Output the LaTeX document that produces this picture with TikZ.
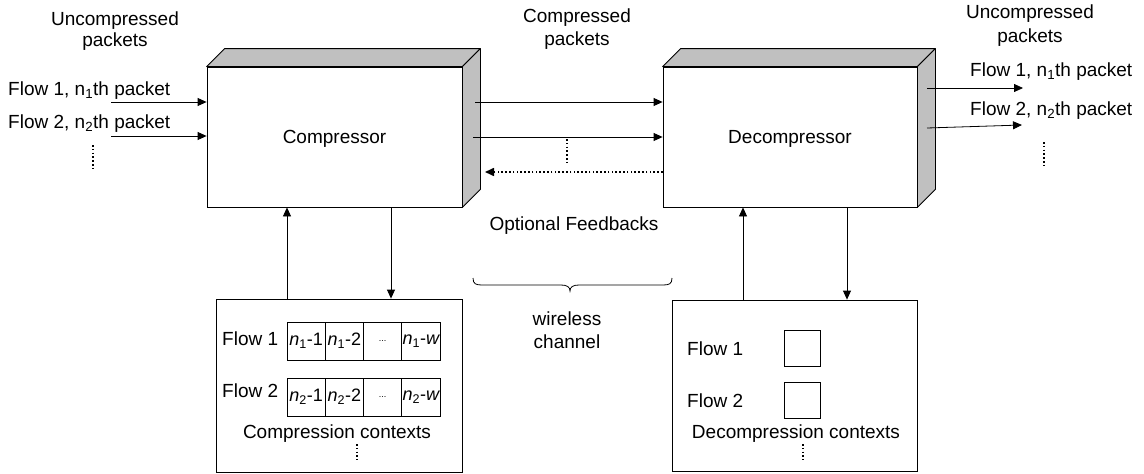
\documentclass[tikz,border=0pt]{standalone}
\usepackage{fontspec}
\setmainfont{Liberation Sans}
\usetikzlibrary{arrows.meta,calc}
\definecolor{sidegray}{RGB}{192,192,192}
\begin{document}
\begin{tikzpicture}[x=1pt,y=-1pt,
  every node/.style={font=\fontsize{19}{22}\selectfont, inner sep=0pt},
  arr/.style={draw, line width=0.8pt, -{Triangle[length=9pt,width=8pt]}},
  dotline/.style={line width=1.6pt, line cap=butt, dash pattern=on 1.6pt off 2.2pt},
  dotarr/.style={dotline, -{Triangle[length=9pt,width=8pt]}},
  box3d/.style={draw, fill=white, line width=0.8pt, minimum width=255pt, minimum height=140pt, text height=13.6pt, text depth=0pt},
  face/.style={draw, fill=sidegray, line width=0.8pt, line join=round},
  ctxbox/.style={draw, line width=0.8pt},
  cell/.style={draw, line width=0.7pt, minimum width=38.25pt, minimum height=38pt, font=\fontsize{18}{20}\selectfont},
  sq/.style={draw, line width=0.7pt, minimum size=36pt},
  lbl/.style={anchor=base, align=center},
  lblw/.style={anchor=base west}
]
\useasboundingbox (0,0) rectangle (1144,474);

% 3D boxes
\node[box3d] (comp) at (334.5,137) {Compressor};
\draw[face] (comp.north west) -- ++(18,-18) -- ($(comp.north east)+(18,-18)$) -- (comp.north east) -- cycle;
\draw[face] (comp.north east) -- ++(18,-18) -- ($(comp.south east)+(18,-18)$) -- (comp.south east) -- cycle;

\node[box3d, minimum width=254pt] (dec) at (790,137) {Decompressor};
\draw[face] (dec.north west) -- ++(18,-18) -- ($(dec.north east)+(18,-18)$) -- (dec.north east) -- cycle;
\draw[face] (dec.north east) -- ++(18,-18) -- ($(dec.south east)+(18,-18)$) -- (dec.south east) -- cycle;

% context boxes
\node[ctxbox, minimum width=246pt, minimum height=173pt] (ctx) at (339,385.5) {};
\node[ctxbox, minimum width=245pt, minimum height=171pt] (dctx) at (794.5,385.5) {};

% top labels (base = last line)
\node[lbl, font=\fontsize{19}{21}\selectfont] (tl) at (115,46) {Uncompressed\\packets};
\node[lbl, font=\fontsize{19}{23}\selectfont] (tm) at (577,45) {Compressed\\packets};
\node[lbl, font=\fontsize{19}{24}\selectfont] (tr) at (1030,42) {Uncompressed\\packets};

\node[lblw] (lf1) at (8,95) {Flow 1, n\textsubscript{1}th packet};
\node[lblw] (lf2) at (8,128) {Flow 2, n\textsubscript{2}th packet};
\node[lblw] (rf1) at (970,76) {Flow 1, n\textsubscript{1}th packet};
\node[lblw] (rf2) at (970,115) {Flow 2, n\textsubscript{2}th packet};

\node[lbl] (fb) at (574,230) {Optional Feedbacks};
\node[lbl, font=\fontsize{19}{23}\selectfont] (wc) at (567,348) {wireless\\channel};

% input arrows
\coordinate (l1) at (111,102);
\coordinate (l2) at (111,136);
\draw[arr] (l1) -- (l1 -| comp.west);
\draw[arr] (l2) -- (l2 -| comp.west);
\draw[dotline] (93,145) -- (93,170);

% channel arrows
\coordinate (m1) at (475,102);
\coordinate (m2) at (473,137);
\coordinate (mfb) at (485,172);
\draw[arr] (m1) -- (m1 -| dec.west);
\draw[arr] (m2) -- (m2 -| dec.west);
\draw[dotarr] (mfb -| dec.west) -- (mfb);
\draw[dotline] (567,139) -- (567,162);

% output arrows
\coordinate (r1s) at (927,88);
\coordinate (r1e) at (1023,88);
\coordinate (r2s) at (927,128);
\coordinate (r2e) at (1022,125);
\draw[arr] (r1s) -- (r1e);
\draw[arr] (r2s) -- (r2e);
\draw[dotline] (1044,142) -- (1044,165);

% vertical arrows
\coordinate (cu) at (287,250);
\coordinate (cd) at (391,250);
\coordinate (du) at (743,250);
\coordinate (dd) at (847,250);
\draw[arr] (cu |- ctx.north) -- (cu |- comp.south);
\draw[arr] (cd |- comp.south) -- (cd |- ctx.north);
\draw[arr] (du |- dctx.north) -- (du |- dec.south);
\draw[arr] (dd |- dec.south) -- (dd |- dctx.north);

% brace
\draw[line width=0.8pt] (473,278) .. controls (473,284) and (476,285) .. (482,285) -- (561,285)
  .. controls (567,285) and (570,287) .. (570,291)
  .. controls (570,287) and (573,285) .. (579,285) -- (663,285)
  .. controls (669,285) and (672,284) .. (672,278);

% compression contexts
\node[lblw] (cf1) at (222,345) {Flow 1};
\node[lblw] (cf2) at (222,397) {Flow 2};
\node[cell] (a1) at (306.1,341) {{\itshape n}\textsubscript{1}-1};
\node[cell] (a2) at (344.4,341) {{\itshape n}\textsubscript{1}-2};
\node[cell] (a3) at (382.6,341) {\fontsize{9}{10}\selectfont ...};
\node[cell] (a4) at (420.9,341) {{\itshape n}\textsubscript{1}-{\itshape w}};
\node[cell] (b1) at (306.1,397) {{\itshape n}\textsubscript{2}-1};
\node[cell] (b2) at (344.4,397) {{\itshape n}\textsubscript{2}-2};
\node[cell] (b3) at (382.6,397) {\fontsize{9}{10}\selectfont ...};
\node[cell] (b4) at (420.9,397) {{\itshape n}\textsubscript{2}-{\itshape w}};
\node[lbl] (cctx) at (337,438) {Compression contexts};
\draw[dotline] (357,444) -- (357,460);

% decompression contexts
\node[lblw] (df1) at (687,355) {Flow 1};
\node[lblw] (df2) at (687,407) {Flow 2};
\node[sq] (s1) at (802,348) {};
\node[sq] (s2) at (802,400.5) {};
\node[lbl] (dctxl) at (796,438) {Decompression contexts};
\draw[dotline] (803,444) -- (803,460);
\end{tikzpicture}
\end{document}
